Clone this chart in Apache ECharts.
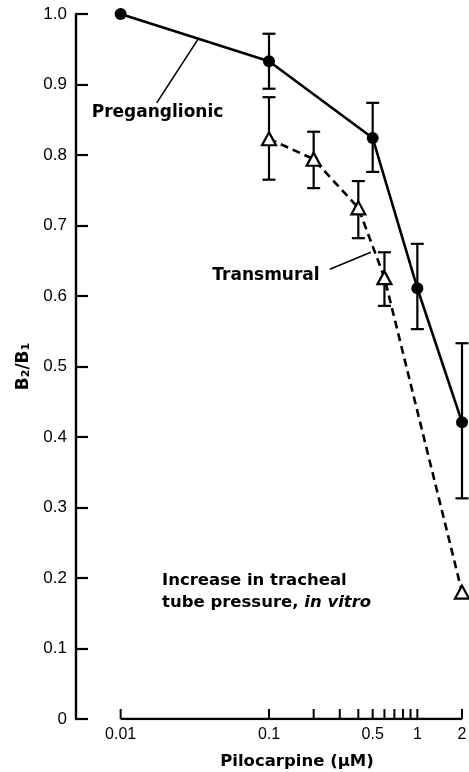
<!DOCTYPE html>
<html><head><meta charset="utf-8">
<script src="https://cdn.jsdelivr.net/npm/echarts@6/dist/echarts.min.js"></script>
<style>html,body{margin:0;padding:0;background:#fff}#c{width:469px;height:772px}</style>
</head><body><div id="c"></div>
<script>
// ---- data ----
const preDose  = [0.01, 0.1, 0.5, 1, 2];
const preMean  = [1.0, 0.933, 0.824, 0.611, 0.421];
const preLow   = [null, 0.894, 0.776, 0.553, 0.313];
const preHigh  = [null, 0.972, 0.874, 0.674, 0.533];

const transDose = [0.1, 0.2, 0.4, 0.6, 2];
const transMean = [0.823, 0.794, 0.725, 0.626, 0.18];
const transLow  = [0.765, 0.753, 0.682, 0.586, null];
const transHigh = [0.882, 0.833, 0.763, 0.662, null];

const xTickValues = [0.01, 0.1, 0.2, 0.3, 0.4, 0.5, 0.6, 0.7, 0.8, 0.9, 1, 2];
const xTickLabels = [0.01, 0.1, 0.5, 1, 2];
const xAxisSpan   = [0.01, 2];
const yMin = 0, yMax = 1, yStep = 0.1;

// leader lines (data space): [from, to]
const preLeader   = [[0.0331, 0.9636], [0.0175, 0.874]];
const transLeader = [[0.257, 0.638], [0.486, 0.662]];

// ---- build ----
const BLACK = '#000';
const pre = preDose.map((d, i) => [d, preMean[i]]);
const trans = transDose.map((d, i) => [d, transMean[i]]);
const preErr = preDose.map((d, i) => [d, preLow[i], preHigh[i]]).filter(r => r[1] != null);
const transErr = transDose.map((d, i) => [d, transLow[i], transHigh[i]]).filter(r => r[1] != null);

function errRender(params, api) {
  const x = api.value(0), lo = api.value(1), hi = api.value(2);
  const a = api.coord([x, lo]), b = api.coord([x, hi]);
  const h = 6.5;
  const st = { stroke: BLACK, lineWidth: 2.2 };
  return { type: 'group', children: [
    { type: 'line', shape: { x1: a[0], y1: a[1], x2: b[0], y2: b[1] }, style: st },
    { type: 'line', shape: { x1: a[0] - h, y1: a[1], x2: a[0] + h, y2: a[1] }, style: st },
    { type: 'line', shape: { x1: b[0] - h, y1: b[1], x2: b[0] + h, y2: b[1] }, style: st }
  ]};
}

const chart = echarts.init(document.getElementById('c'), null, { renderer: 'canvas' });
const TXT = 'DejaVu Sans';
chart.setOption({
  animation: false,
  backgroundColor: '#fff',
  grid: { left: 76, right: 7, top: 14, bottom: 53 },
  xAxis: {
    type: 'log', logBase: 10, min: 0.005, max: 2,
    axisLine: { show: false }, axisTick: { show: false },
    axisLabel: { show: false }, splitLine: { show: false }
  },
  yAxis: {
    type: 'value', min: yMin, max: yMax, interval: yStep,
    axisLine: { show: true, lineStyle: { color: BLACK, width: 2.4 } },
    axisTick: { show: true, inside: true, length: 12, lineStyle: { color: BLACK, width: 2.2 } },
    axisLabel: {
      color: BLACK, fontSize: 17, fontFamily: 'Liberation Sans', margin: 9,
      formatter: v => v === 0 ? '0' : v.toFixed(1)
    },
    splitLine: { show: false },
    name: '{b|B}{s|2}{b|/B}{s|1}',
    nameLocation: 'middle', nameRotate: 90, nameGap: 44,
    nameTextStyle: {
      rich: {
        b: { fontSize: 17, fontFamily: TXT, fontWeight: 'bold', color: BLACK, lineHeight: 20, verticalAlign: 'bottom' },
        s: { fontSize: 11, fontFamily: TXT, fontWeight: 'bold', color: BLACK, lineHeight: 8, verticalAlign: 'bottom' }
      }
    }
  },
  series: [
    { name: 'xbase', type: 'line', data: xAxisSpan.map(v => [v, 0]), symbol: 'none', silent: true,
      lineStyle: { color: BLACK, width: 2.4 }, z: 1 },
    { name: 'xticks', type: 'custom', clip: false, silent: true, data: xTickValues.map(v => [v, 0]),
      renderItem: (p, api) => {
        const c = api.coord([api.value(0), 0]);
        return { type: 'line', shape: { x1: c[0], y1: c[1], x2: c[0], y2: c[1] - 10 }, style: { stroke: BLACK, lineWidth: 2 } };
      } },
    { name: 'xlabels', type: 'custom', clip: false, silent: true, data: xTickLabels.map(v => [v, 0]),
      renderItem: (p, api) => {
        const v = api.value(0);
        const c = api.coord([v, 0]);
        return { type: 'text', x: c[0], y: c[1] + 8,
          style: { text: String(v), fill: BLACK, font: '16px "Liberation Sans"', align: 'center', verticalAlign: 'top' } };
      } },
    { name: 'preErr', type: 'custom', clip: false, silent: true, data: preErr, renderItem: errRender, z: 2 },
    { name: 'transErr', type: 'custom', clip: false, silent: true, data: transErr, renderItem: errRender, z: 2 },
    { name: 'Preganglionic', type: 'line', data: pre, symbol: 'circle', symbolSize: 12,
      itemStyle: { color: BLACK }, lineStyle: { color: BLACK, width: 2.6 }, z: 3 },
    { name: 'Transmural', type: 'line', data: trans, symbol: 'triangle', symbolSize: [14, 13],
      itemStyle: { color: '#fff', borderColor: BLACK, borderWidth: 2.2 },
      lineStyle: { color: BLACK, width: 2.6, type: [8, 5] }, z: 4 },
    { name: 'preLeader', type: 'line', data: preLeader, symbol: 'none', silent: true,
      lineStyle: { color: BLACK, width: 1.6 }, z: 2 },
    { name: 'transLeader', type: 'line', data: transLeader, symbol: 'none', silent: true,
      lineStyle: { color: BLACK, width: 1.6 }, z: 2 }
  ],
  graphic: [
    { type: 'text', x: 157.5, y: 113, style: { text: 'Preganglionic', fill: BLACK,
      font: 'bold 17px "DejaVu Sans"', align: 'center', verticalAlign: 'middle' } },
    { type: 'text', x: 266, y: 276, style: { text: 'Transmural', fill: BLACK,
      font: 'bold 17px "DejaVu Sans"', align: 'center', verticalAlign: 'middle' } },
    { type: 'text', x: 162, y: 581, style: { text: 'Increase in tracheal', fill: BLACK,
      font: 'bold 16.5px "DejaVu Sans"', align: 'left', verticalAlign: 'middle' } },
    { type: 'text', x: 162, y: 603, style: { text: '{n|tube pressure, }{i|in vitro}', align: 'left', verticalAlign: 'middle',
      rich: {
        n: { fill: BLACK, fontFamily: TXT, fontSize: 16.5, fontWeight: 'bold' },
        i: { fill: BLACK, fontFamily: TXT, fontSize: 16.5, fontWeight: 'bold', fontStyle: 'italic' }
      } } },
    { type: 'text', x: 297, y: 762, style: { text: 'Pilocarpine (μM)', fill: BLACK,
      font: 'bold 16.5px "DejaVu Sans"', align: 'center', verticalAlign: 'middle' } }
  ]
});
</script>
</body></html>
